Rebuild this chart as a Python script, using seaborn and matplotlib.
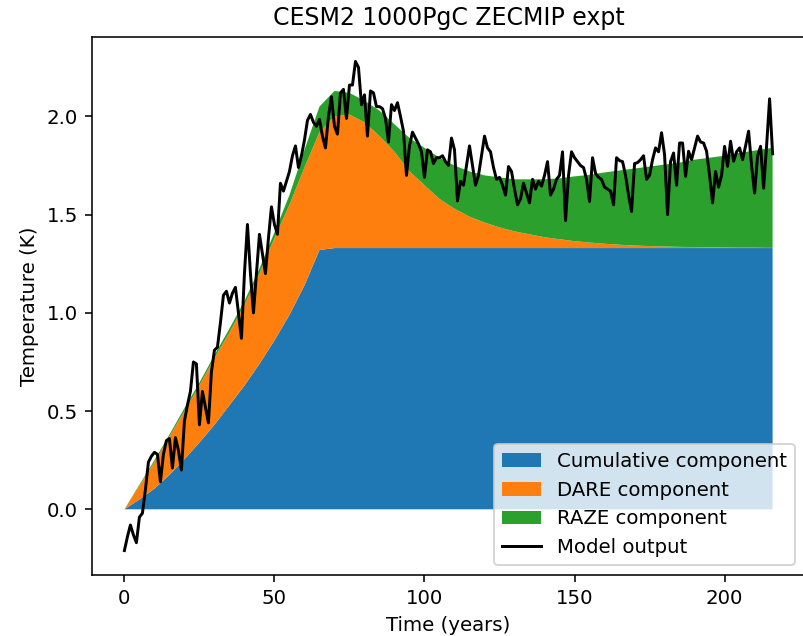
import numpy as np
import pandas as pd
import matplotlib
matplotlib.use("Agg")
import matplotlib.pyplot as plt
from matplotlib.patches import Patch
from matplotlib.lines import Line2D
import seaborn as sns

# ---- component data (years, K) ----
comp_years = [0, 5, 10, 15, 20, 25, 30, 35, 40, 45, 50, 55, 60, 65, 70, 75, 80, 85,
              90, 95, 100, 105, 110, 115, 120, 125, 130, 135, 140, 145, 150, 155,
              160, 165, 170, 175, 180, 185, 190, 195, 200, 205, 210, 215, 216]
cumulative = [0.0, 0.05, 0.105, 0.175, 0.255, 0.34, 0.43, 0.53, 0.63, 0.74, 0.86, 0.99,
              1.14, 1.32, 1.33, 1.33, 1.33, 1.33, 1.33, 1.33, 1.33, 1.33, 1.33, 1.33,
              1.33, 1.33, 1.33, 1.33, 1.33, 1.33, 1.33, 1.33, 1.33, 1.33, 1.33, 1.33,
              1.33, 1.33, 1.33, 1.33, 1.33, 1.33, 1.33, 1.33, 1.33]
dare = [0.0, 0.07, 0.135, 0.195, 0.245, 0.29, 0.34, 0.37, 0.41, 0.46, 0.52, 0.56, 0.60,
        0.60, 0.67, 0.68, 0.64, 0.57, 0.49, 0.39, 0.32, 0.25, 0.20, 0.16, 0.13, 0.105,
        0.085, 0.07, 0.055, 0.045, 0.035, 0.028, 0.022, 0.017, 0.013, 0.010, 0.008,
        0.006, 0.005, 0.004, 0.003, 0.002, 0.002, 0.001, 0.001]
raze = [0.0, 0.005, 0.01, 0.01, 0.015, 0.015, 0.015, 0.02, 0.02, 0.025, 0.03, 0.05,
        0.09, 0.13, 0.13, 0.11, 0.11, 0.13, 0.14, 0.17, 0.19, 0.21, 0.22, 0.23, 0.24,
        0.255, 0.265, 0.28, 0.295, 0.31, 0.33, 0.345, 0.363, 0.378, 0.392, 0.405,
        0.417, 0.429, 0.445, 0.456, 0.467, 0.483, 0.494, 0.507, 0.509]

# ---- model output (one value per year, 0..216) ----
model_output = [
    -0.21, -0.14, -0.08, -0.13, -0.17, -0.04, -0.02, 0.10, 0.24, 0.27,
    0.29, 0.28, 0.14, 0.28, 0.35, 0.36, 0.21, 0.365, 0.30, 0.20,
    0.45, 0.53, 0.60, 0.75, 0.74, 0.43, 0.60, 0.52, 0.44, 0.70,
    0.81, 0.825, 0.95, 1.09, 1.11, 1.05, 1.10, 1.13, 1.00, 0.87,
    1.20, 1.45, 1.20, 1.00, 1.20, 1.40, 1.30, 1.20, 1.38, 1.54,
    1.45, 1.40, 1.66, 1.62, 1.67, 1.72, 1.80, 1.85, 1.74, 1.80,
    1.88, 1.98, 2.01, 1.97, 1.95, 1.985, 1.90, 1.84, 2.00, 2.10,
    1.95, 1.91, 2.12, 2.138, 1.99, 2.16, 2.16, 2.28, 2.25, 2.06,
    2.11, 1.90, 2.13, 2.12, 2.05, 2.05, 2.04, 1.99, 1.87, 2.06,
    2.03, 2.07, 2.00, 1.925, 1.70, 1.85, 1.92, 1.89, 1.86, 1.82,
    1.69, 1.83, 1.82, 1.76, 1.79, 1.79, 1.80, 1.77, 1.75, 1.89,
    1.83, 1.57, 1.67, 1.65, 1.75, 1.85, 1.75, 1.65, 1.70, 1.80,
    1.90, 1.84, 1.82, 1.74, 1.68, 1.69, 1.65, 1.60, 1.745, 1.72,
    1.63, 1.55, 1.58, 1.66, 1.61, 1.56, 1.68, 1.63, 1.67, 1.645,
    1.70, 1.77, 1.60, 1.63, 1.68, 1.70, 1.82, 1.47, 1.70, 1.82,
    1.79, 1.77, 1.75, 1.74, 1.68, 1.567, 1.79, 1.71, 1.69, 1.68,
    1.64, 1.63, 1.62, 1.55, 1.79, 1.775, 1.77, 1.70, 1.60, 1.516,
    1.76, 1.765, 1.78, 1.80, 1.68, 1.70, 1.78, 1.84, 1.82, 1.917,
    1.806, 1.50, 1.77, 1.814, 1.65, 1.865, 1.865, 1.695, 1.823, 1.78,
    1.84, 1.90, 1.87, 1.865, 1.823, 1.70, 1.56, 1.72, 1.64, 1.70,
    1.848, 1.746, 1.874, 1.772, 1.82, 1.84, 1.78, 1.85, 1.925, 1.75,
    1.61, 1.80, 1.848, 1.635, 1.85, 2.09, 1.81,
]
model_years = list(range(len(model_output)))

labels = ["Cumulative component", "DARE component", "RAZE component", "Model output"]
colors = ["#1f77b4", "#ff7f0e", "#2ca02c"]

df = pd.DataFrame({"year": model_years, "temp": model_output})

DPI = 142
fig = plt.figure(figsize=(804 / DPI, 636 / DPI), dpi=DPI)
ax = fig.add_axes([92 / 804, 1 - 575 / 636, 713 / 804, 538 / 636])

ax.stackplot(comp_years, cumulative, dare, raze, colors=colors, labels=labels[:3])
sns.lineplot(data=df, x="year", y="temp", color="black", linewidth=1.5, ax=ax,
             label=labels[3])

ax.set_title("CESM2 1000PgC ZECMIP expt")
ax.set_xlabel("Time (years)")
ax.set_ylabel("Temperature (K)")

handles = [Patch(facecolor=c) for c in colors] + [Line2D([], [], color="black", lw=1.5)]
ax.legend(handles, labels, loc="lower right")

fig.savefig("out.png", dpi=DPI)
